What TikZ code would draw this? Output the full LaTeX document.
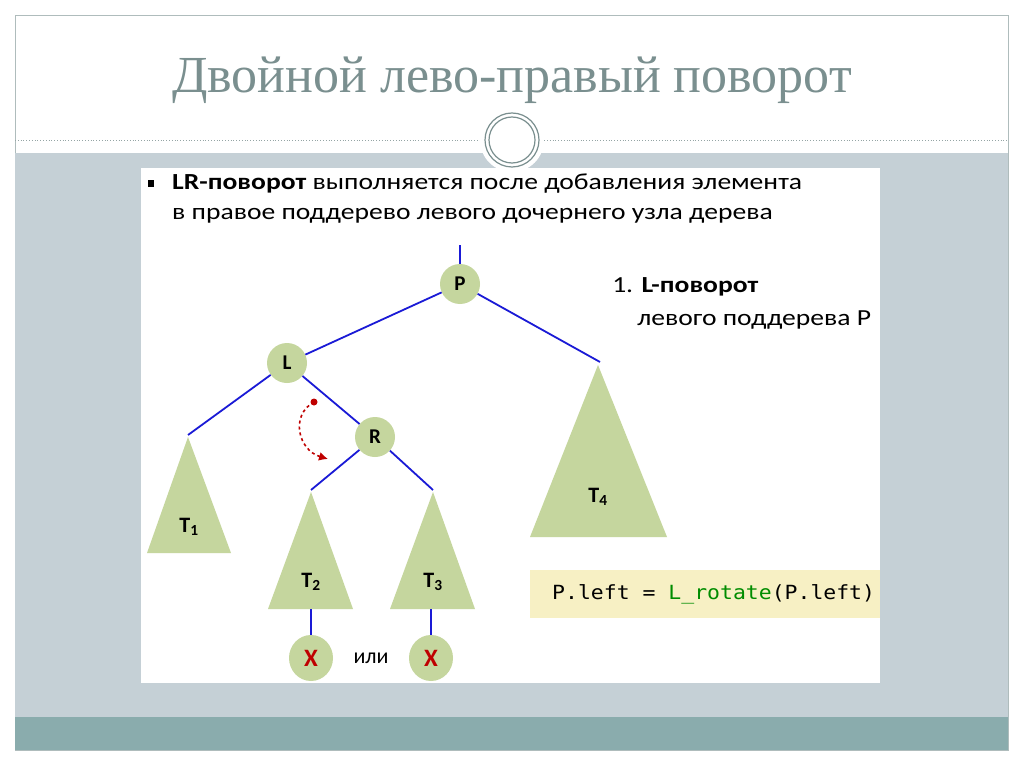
\documentclass[tikz,border=0pt]{standalone}
\usepackage{fontspec}
\setmainfont{Carlito}
\newfontfamily\titlefont{Liberation Serif}
\newfontfamily\codefont{DejaVu Sans Mono}
\usetikzlibrary{arrows.meta,shapes.geometric}
\definecolor{band}{HTML}{C5D0D6}
\definecolor{teal}{HTML}{8AACAD}
\definecolor{ttl}{HTML}{7A8F8F}
\definecolor{nodeg}{HTML}{C5D69E}
\definecolor{codebg}{HTML}{F7F0C4}
\definecolor{edge}{HTML}{1A1AD6}
\begin{document}
\begin{tikzpicture}[x=1pt,y=-1pt,
  tn/.style={circle,fill=nodeg,minimum size=40,inner sep=0,font=\fontsize{21}{22}\selectfont\bfseries},
  xn/.style={ellipse,fill=nodeg,minimum width=44,minimum height=46,inner sep=0,font=\fontsize{25}{25}\selectfont\bfseries\color{red!75!black}},
  ed/.style={edge,line width=1.8},
  tri/.style={fill=nodeg},
  tl/.style={font=\fontsize{22}{22}\selectfont\bfseries},
  txt/.style={font=\fontsize{23}{24}\selectfont,anchor=west,inner sep=0,xscale=1.2}]
\useasboundingbox (0,0) rectangle (1024,767);
\fill[white] (0,0) rectangle (1024,767);
\draw[ttl!60,line width=0.8] (15,15) rectangle (1008,750);
\fill[band] (15,153) rectangle (1008,717);
\fill[teal] (15,717) rectangle (1008,750);
\draw[ttl!80,dotted,line width=0.8] (15,140) -- (1008,140);
\node[font=\titlefont\fontsize{52}{54}\selectfont,text=ttl] (title) at (512,80) {Двойной лево-правый поворот};
\fill[white] (512,140) circle (32);
\draw[ttl,line width=1.2] (512,140) circle (27);
\draw[ttl,line width=1.2] (512,140) circle (23);
\fill[white] (141,168) rectangle (880,683);
% text
\fill (148,180) rectangle (154,187);
\node[txt] (t1) at (172,184) {\textbf{LR-поворот} выполняется после добавления элемента};
\node[txt] (t2) at (172,216) {в правое поддерево левого дочернего узла дерева};
\node[txt] (t3) at (612,287) {1. \textbf{L-поворот}};
\node[txt] (t4) at (637,320) {левого поддерева P};
% triangles
\fill[tri] (188,437) -- (231,553) -- (147,553) -- cycle;
\fill[tri] (311,492) -- (353,609) -- (268,609) -- cycle;
\fill[tri] (433,492) -- (475,609) -- (390,609) -- cycle;
\fill[tri] (598,365) -- (667,537) -- (530,537) -- cycle;
\node[tl] at (189,527) {T\textsubscript{1}};
\node[tl] at (311,582) {T\textsubscript{2}};
\node[tl] at (433,582) {T\textsubscript{3}};
\node[tl] at (598,497) {T\textsubscript{4}};
\coordinate (top) at (460,245);
\coordinate (a1) at (188,435);
\coordinate (a2) at (311,490);
\coordinate (a3) at (433,490);
\coordinate (a4) at (600,362);
\coordinate (b2) at (311,609);
\coordinate (b3) at (431,609);
\node[tn] (P) at (460,284) {P};
\node[tn] (L) at (287,363) {L};
\node[tn] (R) at (375,437) {R};
\node[xn] (X1) at (311,658) {X};
\node[xn] (X2) at (431,658) {X};
\node[font=\fontsize{22}{22}\selectfont] (ili) at (371,658) {или};
\draw[ed] (top) -- (P);
\draw[ed] (P) -- (L);
\draw[ed] (P) -- (a4);
\draw[ed] (L) -- (a1);
\draw[ed] (L) -- (R);
\draw[ed] (R) -- (a2);
\draw[ed] (R) -- (a3);
\draw[ed] (b2) -- (X1);
\draw[ed] (b3) -- (X2);
\coordinate (rs) at (314,402);
\coordinate (re) at (328,459);
\fill[red!75!black] (rs) circle (3.5);
\draw[red!75!black,dashed,line width=1.6,-{Latex[length=9,width=9]}] (rs) .. controls (290,415) and (298,450) .. (re);
\node[fill=codebg,minimum width=350,minimum height=48,anchor=west,inner sep=0] (code) at (530,594) {};
\node[anchor=west,inner sep=0,xscale=1.1,font=\codefont\fontsize{19.5}{20}\selectfont] at (552,594) {P.left = \textcolor{green!55!black}{L\_rotate}(P.left)};
\end{tikzpicture}
\end{document}
